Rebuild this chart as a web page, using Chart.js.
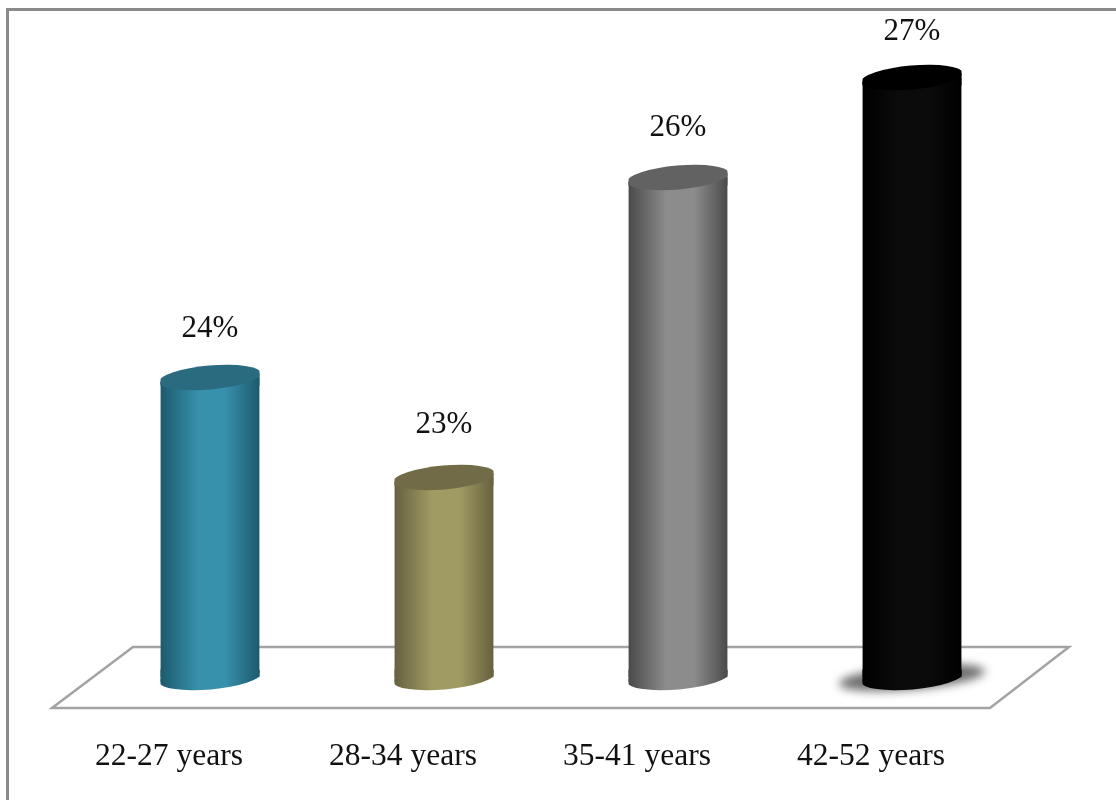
<!DOCTYPE html>
<html>
<head>
<meta charset="utf-8">
<title>Age groups</title>
<script src="https://cdn.jsdelivr.net/npm/chart.js@4"></script>
<style>
html, body { margin: 0; background: #fff; }
canvas { display: block; }
</style>
</head>
<body>
<canvas id="ageChart" width="1116" height="800"></canvas>
<script>
const ageGroups = ['22-27 years', '28-34 years', '35-41 years', '42-52 years'];
const shares = [24, 23, 26, 27];

// left edge, middle and right edge of each cylinder, then its top cap
const edgeColors = ['#1d5a6c', '#666140', '#4a4a4a', '#000000'];
const midColors = ['#3790ac', '#a09a63', '#8c8c8c', '#0b0b0b'];
const capColors = ['#2a6b80', '#716c47', '#626262', '#000000'];
const hasShadow = [false, false, false, true];
const labelLift = [49, 53, 50, 46];

const barWidth = 99;
const capHeight = 12;
const tilt = -5 * Math.PI / 180;
const endDrop = Math.sin(-tilt) * barWidth / 2;
const serif = '"Liberation Serif", "Times New Roman", serif';

function bodyGradient(ctx, center, i) {
  const left = center - barWidth / 2;
  const g = ctx.createLinearGradient(left, 0, left + barWidth, 0);
  g.addColorStop(0, edgeColors[i]);
  g.addColorStop(0.38, midColors[i]);
  g.addColorStop(0.66, midColors[i]);
  g.addColorStop(1, edgeColors[i]);
  return g;
}

function ellipse(ctx, x, y, rx, ry, fill) {
  ctx.beginPath();
  ctx.ellipse(x, y, rx, ry, tilt, 0, Math.PI * 2);
  ctx.fillStyle = fill;
  ctx.fill();
}

// cylinder end, a little oversized and cut to the bar width for crisp corners
function cylinderEnd(ctx, x, y, fill) {
  ctx.save();
  ctx.beginPath();
  ctx.rect(x - barWidth / 2, y - 30, barWidth, 60);
  ctx.clip();
  ellipse(ctx, x, y, barWidth / 2 + 1.5, capHeight, fill);
  ctx.restore();
}

// strip of body from the tilted end line to a level line, closes the gap beside the bar rectangle
function bodyStrip(ctx, x, y, level, fill) {
  const l = x - barWidth / 2;
  const r = x + barWidth / 2;
  ctx.beginPath();
  ctx.moveTo(l, y + endDrop);
  ctx.lineTo(r, y - endDrop);
  ctx.lineTo(r, level);
  ctx.lineTo(l, level);
  ctx.closePath();
  ctx.fillStyle = fill;
  ctx.fill();
}

// outer frame, floor, cylinder ends and value labels
const floorPlugin = {
  id: 'floor',
  afterLayout(chart) {
    chart.data.datasets[0].backgroundColor = shares.map((v, i) =>
      bodyGradient(chart.ctx, chart.scales.x.getPixelForTick(i), i));
  },
  beforeDatasetsDraw(chart) {
    const { ctx, chartArea: area } = chart;
    const b = area.bottom;
    ctx.save();
    ctx.strokeStyle = '#8a8a8a';
    ctx.lineWidth = 3;
    ctx.beginPath();
    ctx.moveTo(7.5, chart.height);
    ctx.lineTo(7.5, 9.5);
    ctx.lineTo(chart.width, 9.5);
    ctx.stroke();

    ctx.strokeStyle = '#a3a3a3';
    ctx.lineWidth = 2.5;
    ctx.lineJoin = 'miter';
    ctx.beginPath();
    ctx.moveTo(area.left - 41, b + 30.5);
    ctx.lineTo(area.left + 897, b + 30.5);
    ctx.lineTo(area.left + 976, b - 30.5);
    ctx.lineTo(area.left + 40, b - 30.5);
    ctx.closePath();
    ctx.stroke();

    chart.getDatasetMeta(0).data.forEach((bar, i) => {
      if (hasShadow[i]) {
        ctx.save();
        ctx.filter = 'blur(5px)';
        ellipse(ctx, bar.x, bar.base, barWidth * 0.74, capHeight, '#6e6e6e');
        ctx.restore();
      }
      // rounded foot below the bar rectangle
      const fill = bodyGradient(ctx, bar.x, i);
      cylinderEnd(ctx, bar.x, bar.base, fill);
      bodyStrip(ctx, bar.x, bar.base, bar.base - 8, fill);
    });
    ctx.restore();
  },
  // trim the square bar corners along the tilted cylinder top
  beforeDatasetDraw(chart) {
    const { ctx } = chart;
    ctx.save();
    ctx.beginPath();
    chart.getDatasetMeta(0).data.forEach((bar) => {
      const l = bar.x - barWidth / 2;
      const r = bar.x + barWidth / 2;
      ctx.moveTo(l, bar.y + endDrop);
      ctx.lineTo(r, bar.y - endDrop);
      ctx.lineTo(r, bar.base);
      ctx.lineTo(l, bar.base);
      ctx.closePath();
    });
    ctx.clip();
  },
  afterDatasetDraw(chart) {
    chart.ctx.restore();
  },
  afterDatasetsDraw(chart) {
    const { ctx } = chart;
    ctx.save();
    ctx.font = '31px ' + serif;
    ctx.textAlign = 'center';
    ctx.textBaseline = 'middle';
    chart.getDatasetMeta(0).data.forEach((bar, i) => {
      bodyStrip(ctx, bar.x, bar.y, bar.y + 8, bodyGradient(ctx, bar.x, i));
      cylinderEnd(ctx, bar.x, bar.y, capColors[i]);
      ctx.fillStyle = '#111';
      ctx.fillText(shares[i] + '%', bar.x, bar.y - labelLift[i]);
    });
    ctx.restore();
  }
};

const ctx = document.getElementById('ageChart').getContext('2d');

new Chart(ctx, {
  type: 'bar',
  data: {
    labels: ageGroups,
    datasets: [{
      label: 'Share',
      data: shares,
      base: 21,
      barThickness: barWidth,
      borderWidth: 0,
      backgroundColor: midColors
    }]
  },
  options: {
    responsive: false,
    animation: false,
    layout: { padding: { left: 93, right: 87, top: 17.5, bottom: 0 } },
    scales: {
      x: {
        grid: { display: false },
        border: { display: false },
        afterFit(axis) { axis.height = 122.5; },
        ticks: { color: '#111', padding: 52, labelOffset: -41, maxRotation: 0, font: { family: serif, size: 31.5 } }
      },
      y: { display: false, min: 21, max: 27.6 }
    },
    plugins: {
      legend: { display: false },
      tooltip: { enabled: false }
    }
  },
  plugins: [floorPlugin]
});
</script>
</body>
</html>
